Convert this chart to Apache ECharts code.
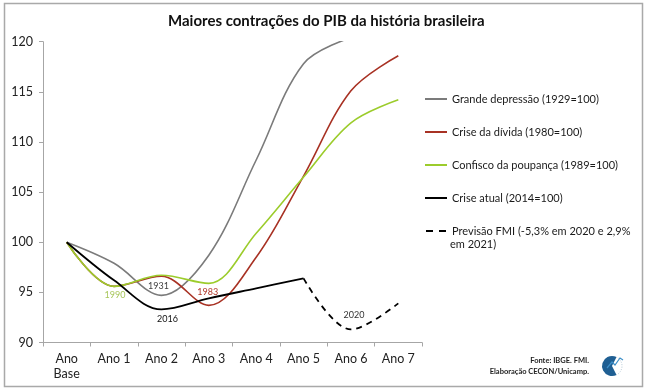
<!DOCTYPE html>
<html>
<head>
<meta charset="utf-8">
<script src="https://cdn.jsdelivr.net/npm/echarts@6/dist/echarts.min.js"></script>
<style>
html,body{margin:0;padding:0;background:#fff;}
#chart{width:650px;height:390px;}
</style>
</head>
<body>
<div id="chart"></div>
<script>
// ---- data ----
var categories = ['Ano\nBase', 'Ano 1', 'Ano 2', 'Ano 3', 'Ano 4', 'Ano 5', 'Ano 6', 'Ano 7'];
var grandeDepressao = [100, 97.9, 94.7, 98.7, 108.2, 117.8, 120.4, null];
var criseDivida = [100, 95.6, 96.6, 93.7, 98.5, 106.6, 115.1, 118.6];
var confiscoPoupanca = [100, 95.6, 96.7, 95.9, 100.9, 106.5, 111.9, 114.2];
var criseAtual = [100, 96.2, 93.3, 94.4, 95.4, 96.4, null, null];
var previsaoFMI = [null, null, null, null, null, 96.4, 91.3, 93.9];
var yTicks = {min: 90, max: 120, interval: 5};
var seriesNames = [
  'Grande depressão (1929=100)',
  'Crise da dívida (1980=100)',
  'Confisco da poupança (1989=100)',
  'Crise atual (2014=100)',
  'Previsão FMI (-5,3% em 2020 e 2,9%'
];
var annotations = [
  {series: 2, idx: 1, val: 95.6, text: '1990', color: '#a7c65a', off: [1, 9]},
  {series: 0, idx: 2, val: 94.7, text: '1931', color: '#404040', off: [-3, -9]},
  {series: 1, idx: 3, val: 93.7, text: '1983', color: '#b0382a', off: [-1, -13]},
  {series: 3, idx: 2, val: 93.3, text: '2016', color: '#111111', off: [6, 10]},
  {series: 4, idx: 6, val: 91.3, text: '2020', color: '#333333', off: [3, -14]}
];

var FONT = 'Lato, "Open Sans", sans-serif';
var colors = ['#7b7b7b', '#a83224', '#9ccc2c', '#000000', '#000000'];
var dataArr = [grandeDepressao, criseDivida, confiscoPoupanca, criseAtual, previsaoFMI];

function marks(si) {
  var d = annotations.filter(function (a) { return a.series === si; }).map(function (a) {
    return {
      name: a.text,
      coord: [a.idx, a.val],
      label: {color: a.color, offset: a.off}
    };
  });
  if (!d.length) return undefined;
  return {
    symbol: 'circle',
    symbolSize: 0,
    silent: true,
    label: {show: true, position: 'inside', formatter: '{b}', fontSize: 9, fontFamily: FONT},
    data: d
  };
}

var series = dataArr.map(function (arr, i) {
  return {
    name: seriesNames[i],
    type: 'line',
    data: arr,
    smooth: 0.35,
    symbol: 'none',
    connectNulls: false,
    z: i === 3 || i === 4 ? 5 : 3,
    lineStyle: {
      color: colors[i],
      width: i >= 3 ? 1.8 : 1.6,
      type: i === 4 ? [6, 5] : 'solid'
    },
    itemStyle: {color: colors[i]},
    markPoint: marks(i)
  };
});

var SOLID_ICON = 'path://M0,0 H22 V2 H0 Z';
var DASH_ICON = 'path://M0,0 H7 V2 H0 Z M13,0 H20 V2 H13 Z';

var chart = echarts.init(document.getElementById('chart'), null, {renderer: 'canvas'});
chart.setOption({
  animation: false,
  backgroundColor: '#ffffff',
  title: {
    text: 'Maiores contrações do PIB da história brasileira',
    left: 163, top: 9,
    textStyle: {fontFamily: FONT, fontWeight: 'bold', fontSize: 15, color: '#111'}
  },
  grid: {left: 43, right: 228, top: 41.7, bottom: 47.5, containLabel: false},
  legend: {
    orient: 'vertical',
    left: 420, top: 87,
    itemWidth: 22, itemHeight: 2,
    itemGap: 19,
    textStyle: {fontFamily: FONT, fontSize: 11, color: '#1a1a1a', lineHeight: 14},
    data: seriesNames.map(function (n, i) {
      return {name: n, icon: i === 4 ? DASH_ICON : SOLID_ICON};
    })
  },
  xAxis: {
    type: 'category',
    data: categories,
    boundaryGap: true,
    axisLine: {lineStyle: {color: '#a6a6a6', width: 1}},
    axisTick: {show: true, length: 4, lineStyle: {color: '#a6a6a6'}},
    axisLabel: {fontFamily: FONT, fontSize: 12.5, color: '#222', margin: 9, lineHeight: 15, interval: 0}
  },
  yAxis: {
    type: 'value',
    min: yTicks.min, max: yTicks.max, interval: yTicks.interval,
    splitLine: {show: false},
    axisLine: {show: true, lineStyle: {color: '#a6a6a6', width: 1}},
    axisTick: {show: true, length: 4, lineStyle: {color: '#a6a6a6'}},
    axisLabel: {fontFamily: FONT, fontSize: 12.5, color: '#222', margin: 10}
  },
  series: series,
  graphic: [
    {type: 'rect', shape: {x: 4.5, y: 3.5, width: 638, height: 383}, style: {fill: 'none', stroke: '#a9a9a9', lineWidth: 1.5}, silent: true, z: -1},
    {type: 'text', x: 450, y: 239, style: {text: 'em 2021)', font: '11px ' + FONT, fill: '#1a1a1a'}},
    {type: 'text', x: 589, y: 357, style: {text: 'Fonte: IBGE. FMI.', font: 'bold 7.5px ' + FONT, fill: '#222', textAlign: 'right'}},
    {type: 'text', x: 589, y: 368, style: {text: 'Elaboração CECON/Unicamp.', font: 'bold 7.5px ' + FONT, fill: '#222', textAlign: 'right'}},
    {type: 'sector', shape: {cx: 612, cy: 366, r: 10, r0: 0, startAngle: Math.PI * 0.35, endAngle: Math.PI * 1.65}, style: {fill: '#1f5f93'}},
    {type: 'polyline', shape: {points: [[607, 368], [612, 362], [615, 365], [620, 358], [623, 360]]}, style: {stroke: '#3d8fc8', lineWidth: 1.2, fill: 'none'}},
    {type: 'arc', shape: {cx: 612, cy: 366, r: 10, startAngle: -Math.PI * 0.3, endAngle: Math.PI * 0.35}, style: {stroke: '#9fb8c8', lineWidth: 0.8, lineDash: [1, 1.5], fill: 'none'}}
  ]
});
</script>
</body>
</html>
